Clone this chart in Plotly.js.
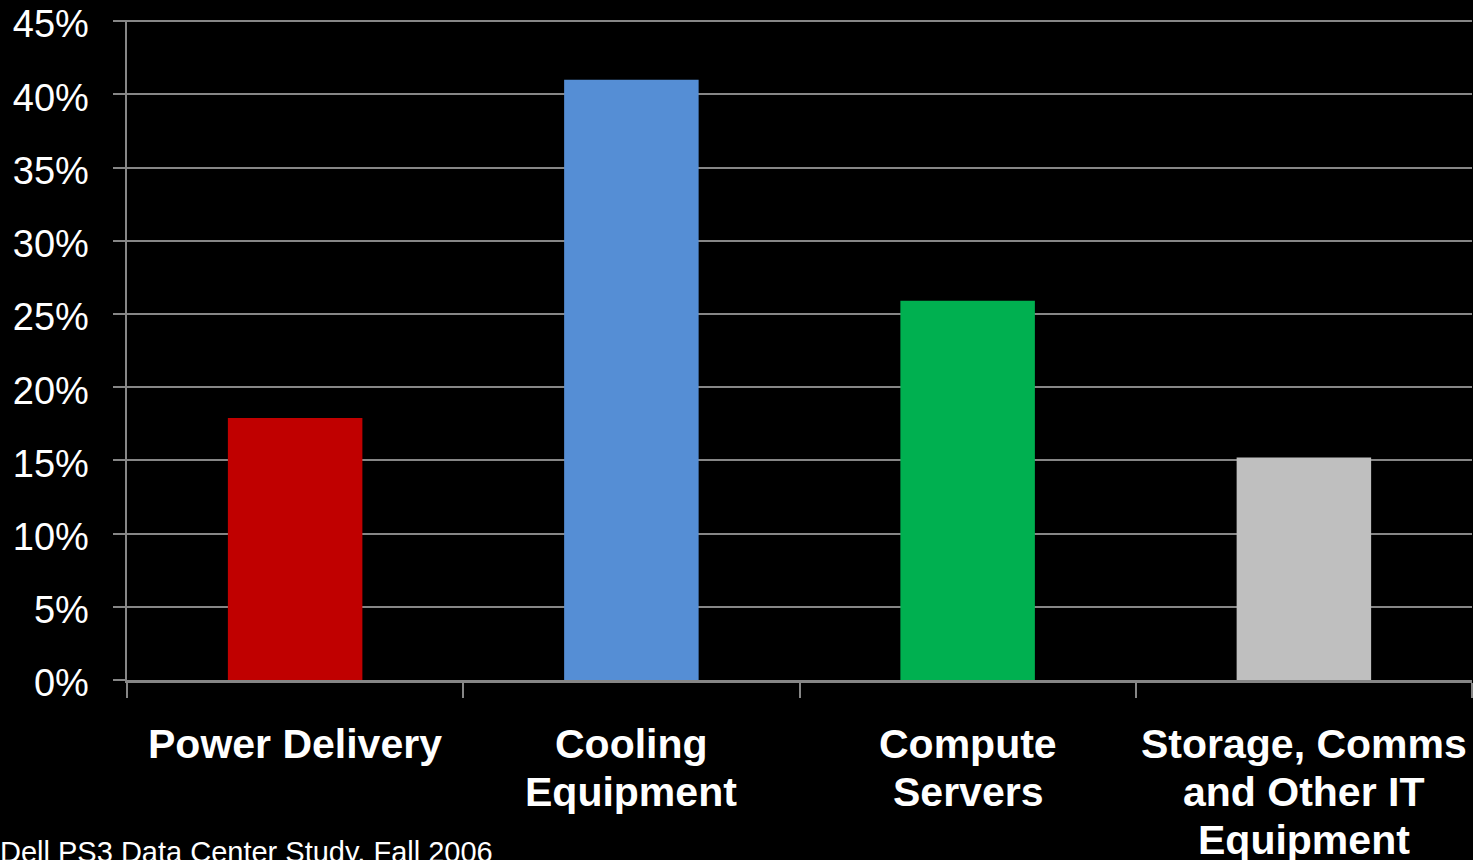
<!DOCTYPE html>
<html>
<head>
<meta charset="utf-8">
<script src="https://cdn.plot.ly/plotly-3.0.1.min.js"></script>
<style>
html,body{margin:0;padding:0;background:#000;}
#chart{width:1473px;height:860px;}
</style>
</head>
<body>
<div id="chart"></div>
<script>
const categories = ["Power Delivery", "Cooling Equipment", "Compute Servers", "Storage, Comms and Other IT Equipment"];
const labelLines = [
  ["Power Delivery"],
  ["Cooling", "Equipment"],
  ["Compute", "Servers"],
  ["Storage, Comms", "and Other IT", "Equipment"]
];
const shares = [17.9, 41.0, 25.9, 15.2];
const barColors = ["#C00000", "#558ED5", "#00B050", "#BFBFBF"];
const yTickVals = [0, 5, 10, 15, 20, 25, 30, 35, 40, 45];
const yTickText = ["0%", "5%", "10%", "15%", "20%", "25%", "30%", "35%", "40%", "45%"];
const sourceNote = "Dell PS3 Data Center Study, Fall 2006";

const FONT = "Arial, 'Liberation Sans', sans-serif";
const gridCol = "#868686";

const annotations = [];
labelLines.forEach((lines, ci) => {
  lines.forEach((line, li) => {
    annotations.push({
      x: categories[ci], y: 0, xref: "x", yref: "y",
      text: "<b>" + line + "</b>", showarrow: false,
      xanchor: "center", yanchor: "middle",
      yshift: -64 - li * 48,
      font: {family: FONT, size: 41, color: "#FFFFFF"}
    });
  });
});
annotations.push({
  x: -129 / 1345, y: 0, xref: "paper", yref: "paper",
  text: sourceNote, showarrow: false,
  xanchor: "left", yanchor: "middle", yshift: -172,
  font: {family: FONT, size: 29, color: "#FFFFFF"}
});

const trace = {
  type: "bar",
  x: categories,
  y: shares,
  marker: {color: barColors, line: {width: 0}},
  hoverinfo: "skip"
};

const layout = {
  width: 1473, height: 860,
  paper_bgcolor: "#000000", plot_bgcolor: "#000000",
  margin: {l: 127, r: 1, t: 20, b: 180},
  showlegend: false,
  bargap: 0.6,
  font: {family: FONT, color: "#FFFFFF"},
  xaxis: {
    type: "category",
    range: [-0.5, 3.5],
    showticklabels: false,
    ticks: "outside", tickson: "boundaries",
    ticklen: 15, tickwidth: 2, tickcolor: gridCol,
    showgrid: false, zeroline: false,
    showline: true, linecolor: gridCol, linewidth: 3
  },
  yaxis: {
    range: [0, 45.08],
    tickvals: yTickVals, ticktext: yTickText,
    ticks: "outside", ticklen: 12, tickwidth: 2, tickcolor: gridCol,
    ticklabelstandoff: 16, ticklabelshift: 3,
    ticklabeloverflow: "allow",
    tickfont: {family: FONT, size: 38, color: "#FFFFFF"},
    showgrid: true, gridcolor: gridCol, gridwidth: 2,
    zeroline: false,
    showline: true, linecolor: gridCol, linewidth: 2.5
  },
  annotations: annotations
};

Plotly.newPlot("chart", [trace], layout, {displayModeBar: false, staticPlot: true});
</script>
</body>
</html>
